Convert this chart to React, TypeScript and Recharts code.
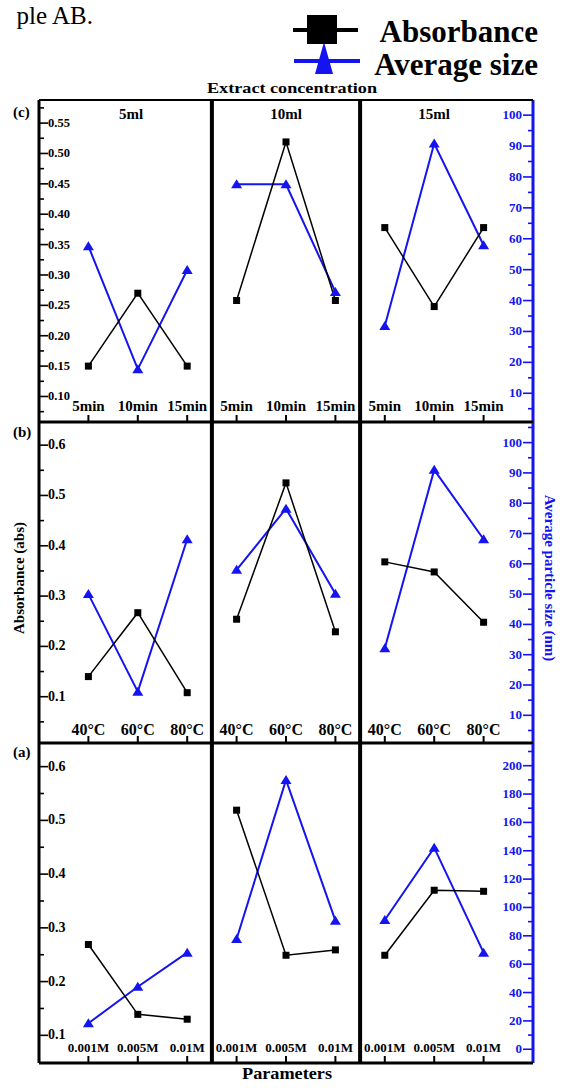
import React from 'react';
import { ComposedChart, Line, XAxis, YAxis, ReferenceLine } from 'recharts';

// panel headings + category labels
const panelTitles = ['5ml', '10ml', '15ml'];
const timeCats = ['5min', '10min', '15min'];
const tempCats = ['40°C', '60°C', '80°C'];
const molCats = ['0.001M', '0.005M', '0.01M'];

// (c) reaction time
const timeAbs = [[0.15, 0.27, 0.15], [0.258, 0.519, 0.258], [0.378, 0.248, 0.378]];
const timeSize = [[57.6, 17.8, 49.9], [77.6, 77.6, 42.8], [31.8, 90.8, 57.9]];
// (b) temperature
const tempAbs = [[0.14, 0.267, 0.108], [0.254, 0.525, 0.229], [0.368, 0.348, 0.248]];
const tempSize = [[50.0, 17.8, 68.1], [58.0, 78.2, 50.1], [32.1, 91.0, 68.1]];
// (a) molarity
const molAbs = [[0.269, 0.139, 0.13], [0.519, 0.249, 0.259], [0.249, 0.37, 0.368]];
const molSize = [[18.3, 44.1, 68.1], [77.8, 189.9, 90.7], [91.2, 142.2, 68.1]];

// axis ticks
const timeAbsMajor = [0.1, 0.15, 0.2, 0.25, 0.3, 0.35, 0.4, 0.45, 0.5, 0.55];
const timeAbsMinor = [0.075, 0.125, 0.175, 0.225, 0.275, 0.325, 0.375, 0.425, 0.475, 0.525, 0.575];
const absMajor = [0.1, 0.2, 0.3, 0.4, 0.5, 0.6];
const tempAbsMinor = [0.05, 0.15, 0.25, 0.35, 0.45, 0.55];
const molAbsMinor = [0.15, 0.25, 0.35, 0.45, 0.55];
const sizeMajor = [10, 20, 30, 40, 50, 60, 70, 80, 90, 100];
const timeSizeMinor = [5, 15, 25, 35, 45, 55, 65, 75, 85, 95];
const tempSizeMinor = [5, 15, 25, 35, 45, 55, 65, 75, 85, 95, 105];
const molSizeMajor = [0, 20, 40, 60, 80, 100, 120, 140, 160, 180, 200];
const molSizeMinor = [10, 30, 50, 70, 90, 110, 130, 150, 170, 190, 210];

const W = 564;
const PL = 39;
const PR = 533;
const PAD = 12;
const BLUE = '#1414f0';
const FONT = '"Liberation Serif", "Times New Roman", serif';

const rows = [
  {
    top: 100, bottom: 422, cats: timeCats, abs: timeAbs, size: timeSize,
    lDom: [0.058, 0.588], lMajor: timeAbsMajor, lMinor: timeAbsMinor, digits: 2, lFont: 12.5,
    rDom: [0.7, 104.9], rMajor: sizeMajor, rMinor: timeSizeMinor,
    xFont: 15, xOff: 11,
  },
  {
    top: 422, bottom: 743, cats: tempCats, abs: tempAbs, size: tempSize,
    lDom: [0.008, 0.646], lMajor: absMajor, lMinor: tempAbsMinor, digits: 1, lFont: 14,
    rDom: [0.86, 106.8], rMajor: sizeMajor, rMinor: tempSizeMinor,
    xFont: 16, xOff: 8,
  },
  {
    top: 743, bottom: 1063, cats: molCats, abs: molAbs, size: molSize,
    lDom: [0.0485, 0.644], lMajor: absMajor, lMinor: molAbsMinor, digits: 1, lFont: 14,
    rDom: [-9.7, 216], rMajor: molSizeMajor, rMinor: molSizeMinor,
    xFont: 13, xOff: 11,
  },
];

const Square = (p: any) => {
  if (typeof p.cx !== 'number' || typeof p.cy !== 'number' || isNaN(p.cy)) return null;
  return <rect key={`s${p.index}`} x={p.cx - 3.5} y={p.cy - 3.5} width={7} height={7} fill="#000" />;
};

const Tri = (p: any) => {
  if (typeof p.cx !== 'number' || typeof p.cy !== 'number' || isNaN(p.cy)) return null;
  const { cx, cy } = p;
  return <polygon key={`t${p.index}`} points={`${cx - 5.5},${cy + 4} ${cx + 5.5},${cy + 4} ${cx},${cy - 5}`} fill={BLUE} />;
};

const RowChart = ({ cfg }: { cfg: any }) => {
  const h = cfg.bottom - cfg.top;
  const plotBottom = PAD + h;
  const data: any[] = [];
  [0, 1, 2].forEach((g) => {
    cfg.cats.forEach((c: string, i: number) => {
      data.push({ x: g * 3 + i + 1, label: c, ['abs' + g]: cfg.abs[g][i], ['size' + g]: cfg.size[g][i] });
    });
  });

  const xTick = (p: any) => {
    const row = data.find((d) => d.x === p.payload.value);
    return (
      <g>
        <line x1={p.x} x2={p.x} y1={plotBottom} y2={plotBottom - 7} stroke="#000" strokeWidth={2} />
        <text x={p.x} y={plotBottom - cfg.xOff} textAnchor="middle" fontFamily={FONT} fontWeight="bold" fontSize={cfg.xFont} fill="#000">
          {row ? row.label : ''}
        </text>
      </g>
    );
  };

  const lTick = (p: any) => {
    const v = p.payload.value;
    const major = cfg.lMajor.includes(v);
    return (
      <g>
        <line x1={PL} x2={PL + (major ? 9 : 5)} y1={p.y} y2={p.y} stroke="#000" strokeWidth={1.6} />
        {major && (
          <text x={PL + 9} y={p.y} dy={4} fontFamily={FONT} fontWeight="bold" fontSize={cfg.lFont} fill="#000">
            {v.toFixed(cfg.digits)}
          </text>
        )}
      </g>
    );
  };

  const rTick = (p: any) => {
    const v = p.payload.value;
    const major = cfg.rMajor.includes(v);
    return (
      <g>
        <line x1={PR} x2={PR - (major ? 10 : 5)} y1={p.y} y2={p.y} stroke={BLUE} strokeWidth={1.6} />
        {major && (
          <text x={PR - 11} y={p.y} dy={4} textAnchor="end" fontFamily={FONT} fontWeight="bold" fontSize={13} fill={BLUE}>
            {v}
          </text>
        )}
      </g>
    );
  };

  return (
    <div style={{ position: 'absolute', left: 0, top: cfg.top - PAD }}>
      <ComposedChart
        width={W}
        height={h + 2 * PAD}
        data={data}
        margin={{ top: PAD, right: W - PR, bottom: PAD - 1, left: PL }}
      >
        <XAxis
          dataKey="x"
          type="number"
          domain={[0, 10]}
          ticks={[1, 2, 3, 4, 5, 6, 7, 8, 9]}
          interval={0}
          height={1}
          axisLine={false}
          tickLine={false}
          tick={xTick}
          allowDataOverflow
        />
        <YAxis
          yAxisId="l"
          type="number"
          domain={cfg.lDom}
          ticks={[...cfg.lMajor, ...cfg.lMinor]}
          interval={0}
          mirror
          width={10}
          axisLine={false}
          tickLine={false}
          tick={lTick}
          allowDataOverflow
        />
        <YAxis
          yAxisId="r"
          orientation="right"
          type="number"
          domain={cfg.rDom}
          ticks={[...cfg.rMajor, ...cfg.rMinor]}
          interval={0}
          mirror
          width={10}
          axisLine={false}
          tickLine={false}
          tick={rTick}
          allowDataOverflow
        />
        <ReferenceLine yAxisId="l" x={3.5} stroke="#000" strokeWidth={4} ifOverflow="visible" />
        <ReferenceLine yAxisId="l" x={6.5} stroke="#000" strokeWidth={4} ifOverflow="visible" />
        <ReferenceLine yAxisId="l" x={0} stroke="#000" strokeWidth={3} ifOverflow="visible" />
        <ReferenceLine yAxisId="l" x={10} stroke={BLUE} strokeWidth={3} ifOverflow="visible" />
        <ReferenceLine yAxisId="l" y={cfg.lDom[1]} stroke="#000" strokeWidth={2} ifOverflow="visible" />
        <ReferenceLine yAxisId="l" y={cfg.lDom[0]} stroke="#000" strokeWidth={3} ifOverflow="visible" />
        {[0, 1, 2].map((g) => (
          <Line
            key={'s' + g}
            yAxisId="r"
            dataKey={'size' + g}
            stroke={BLUE}
            strokeWidth={2}
            dot={Tri}
            activeDot={false}
            isAnimationActive={false}
          />
        ))}
        {[0, 1, 2].map((g) => (
          <Line
            key={'a' + g}
            yAxisId="l"
            dataKey={'abs' + g}
            stroke="#000"
            strokeWidth={1.5}
            dot={Square}
            activeDot={false}
            isAnimationActive={false}
          />
        ))}
      </ComposedChart>
    </div>
  );
};

const App = () => {
  return (
    <div style={{ position: 'absolute', left: 0, top: 0, width: W, height: 1088, background: '#fff', overflow: 'hidden' }}>
      {rows.map((r, i) => (
        <RowChart key={i} cfg={r} />
      ))}
      <svg width={W} height={1088} style={{ position: 'absolute', left: 0, top: 0, pointerEvents: 'none' }}>
        <text x={93} y={24} textAnchor="end" fontFamily={FONT} fontSize={25} fill="#000">ple AB.</text>

        {/* legend */}
        <line x1={294} x2={360} y1={61} y2={61} stroke={BLUE} strokeWidth={4} />
        <polygon points="315,74 333,74 324,42" fill={BLUE} />
        <line x1={293} x2={358} y1={30} y2={30} stroke="#000" strokeWidth={4} />
        <rect x={307} y={15} width={30} height={29} fill="#000" />
        <text x={538} y={42} textAnchor="end" fontFamily={FONT} fontWeight="bold" fontSize={31} fill="#000">Absorbance</text>
        <text x={538} y={75} textAnchor="end" fontFamily={FONT} fontWeight="bold" fontSize={31} fill="#000">Average size</text>

        <text x={292} y={93} textAnchor="middle" fontFamily={FONT} fontWeight="bold" fontSize={14} textLength={170} lengthAdjust="spacingAndGlyphs" fill="#000">
          Extract concentration
        </text>

        {panelTitles.map((t, i) => (
          <text key={t} x={[131, 286, 434][i]} y={119} textAnchor="middle" fontFamily={FONT} fontWeight="bold" fontSize={15} fill="#000">
            {t}
          </text>
        ))}

        <text x={13} y={117} fontFamily={FONT} fontWeight="bold" fontSize={15} fill="#000">(c)</text>
        <text x={13} y={437} fontFamily={FONT} fontWeight="bold" fontSize={15} fill="#000">(b)</text>
        <text x={13} y={757} fontFamily={FONT} fontWeight="bold" fontSize={15} fill="#000">(a)</text>

        <text transform="translate(24,578) rotate(-90)" textAnchor="middle" fontFamily={FONT} fontWeight="bold" fontSize={15} fill="#000">
          Absorbance (abs)
        </text>
        <text transform="translate(545,578) rotate(90)" textAnchor="middle" fontFamily={FONT} fontWeight="bold" fontSize={15} fill={BLUE}>
          Average particle size (nm)
        </text>

        <text x={287} y={1079} textAnchor="middle" fontFamily={FONT} fontWeight="bold" fontSize={16} textLength={90} lengthAdjust="spacingAndGlyphs" fill="#000">
          Parameters
        </text>
      </svg>
    </div>
  );
};

export default App;
